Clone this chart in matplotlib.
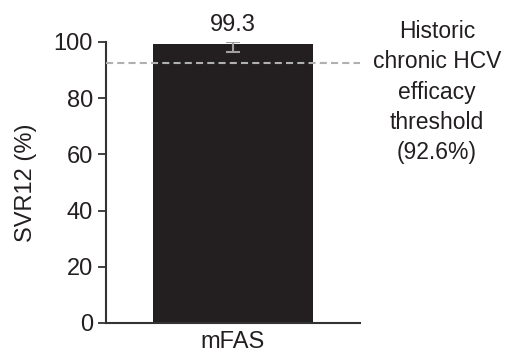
import numpy as np
import matplotlib
matplotlib.use('Agg')
from matplotlib import pyplot as plt

plt.rcParams['font.family'] = ['Liberation Sans', 'DejaVu Sans']

groups = ['mFAS']
svr = [99.3]
err_low = [2.9]
err_high = [0.7]
threshold = 92.6
note = 'Historic\nchronic HCV\nefficacy\nthreshold\n(92.6%)'

fig = plt.figure(figsize=(5.06, 3.52), dpi=100)
ax = fig.add_axes([0.2095, 0.0824, 0.502, 0.7983])

x = np.arange(len(groups))
ax.bar(x, svr, width=0.63, color='#231f20', zorder=2)
ax.errorbar(x, svr, yerr=[err_low, err_high], fmt='none', ecolor='#a0a0a0',
            elinewidth=1.5, capsize=5, capthick=1.5, zorder=3)
ax.axhline(threshold, color='#b0b0b0', ls=(0, (3.4, 2)), lw=1.5, zorder=4)

for xi, v in zip(x, svr):
    ax.annotate('{:.1f}'.format(v), (xi, 100), xytext=(0, 4), textcoords='offset points',
                ha='center', va='bottom', fontsize=17, color='#231f20')

ax.text(1.303, 0.822, note, transform=ax.transAxes, ha='center', va='center',
        fontsize=16.5, linespacing=1.40, color='#231f20', clip_on=False)

ax.set_xlim(-0.5, 0.5)
ax.set_ylim(0, 100)
ax.set_yticks([0, 20, 40, 60, 80, 100])
ax.set_xticks(x)
ax.set_xticklabels(groups)
ax.set_ylabel('SVR12 (%)', fontsize=17, color='#231f20', labelpad=12)
ax.tick_params(axis='y', labelsize=17, length=6, width=1.3, color='#333333', labelcolor='#231f20')
ax.tick_params(axis='x', labelsize=17, length=0, pad=6, labelcolor='#231f20')
for s in ['top', 'right']:
    ax.spines[s].set_visible(False)
for s in ['left', 'bottom']:
    ax.spines[s].set_linewidth(1.5)
    ax.spines[s].set_color('#333333')

fig.savefig('out.png', dpi=100)
